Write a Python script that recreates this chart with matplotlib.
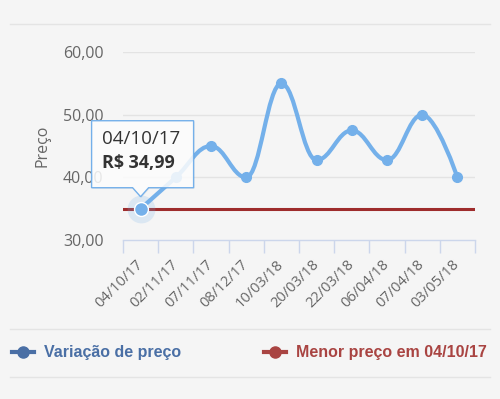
import matplotlib
matplotlib.use("Agg")
import matplotlib.pyplot as plt
from matplotlib.path import Path
from matplotlib.patches import PathPatch, Polygon
from matplotlib.lines import Line2D
from matplotlib.transforms import IdentityTransform, ScaledTranslation
import matplotlib.ticker as ticker

# ── data ──────────────────────────────────────────────────────────────
dates = ["04/10/17", "02/11/17", "07/11/17", "08/12/17", "10/03/18",
         "20/03/18", "22/03/18", "06/04/18", "07/04/18", "03/05/18"]
prices = [34.99, 39.99, 44.99, 39.99, 54.99, 42.75, 47.49, 42.75, 49.99, 39.99]
min_price = 34.99
min_date = "04/10/17"
y_ticks = [30, 40, 50, 60]

# ── styles ────────────────────────────────────────────────────────────
BG = "#f5f5f5"
LINE_BLUE = "#74b0ea"
MIN_RED = "#9e2c2c"
LEG_BLUE = "#4a6fa5"
LEG_RED = "#a94442"
TXT = "#666666"
FONT = "Open Sans"


def spline_path(xs, ys, smoothing=1.5):
    # highcharts-like spline control points
    n = len(xs)
    denom = smoothing + 1
    lc = list(zip(xs, ys))
    rc = list(zip(xs, ys))
    for i in range(1, n - 1):
        lx, ly = xs[i - 1], ys[i - 1]
        nx, ny = xs[i + 1], ys[i + 1]
        px, py = xs[i], ys[i]
        lcx = (smoothing * px + lx) / denom
        lcy = (smoothing * py + ly) / denom
        rcx = (smoothing * px + nx) / denom
        rcy = (smoothing * py + ny) / denom
        corr = ((rcy - lcy) * (rcx - px)) / (rcx - lcx) + py - rcy
        lcy += corr
        rcy += corr
        if lcy > ly and lcy > py:
            lcy = max(ly, py)
            rcy = 2 * py - lcy
        elif lcy < ly and lcy < py:
            lcy = min(ly, py)
            rcy = 2 * py - lcy
        if rcy > ny and rcy > py:
            rcy = max(ny, py)
            lcy = 2 * py - rcy
        elif rcy < ny and rcy < py:
            rcy = min(ny, py)
            lcy = 2 * py - rcy
        lc[i] = (lcx, lcy)
        rc[i] = (rcx, rcy)
    verts = [(xs[0], ys[0])]
    codes = [Path.MOVETO]
    for i in range(1, n):
        verts += [rc[i - 1], lc[i], (xs[i], ys[i])]
        codes += [Path.CURVE4] * 3
    return Path(verts, codes)


W, H = 500, 399
fig = plt.figure(figsize=(W / 100, H / 100), dpi=100, facecolor=BG)
ax = fig.add_axes([123 / W, 1 - 240 / H, 352 / W, 188 / H])
ax.set_facecolor(BG)

x = list(range(len(dates)))
ax.set_xlim(-0.5, len(dates) - 0.5)
ax.set_ylim(30, 60)

# grid
for yt in y_ticks[1:]:
    ax.axhline(yt, color="#e3e3e3", lw=1, zorder=0)

# minimum price line
ax.axhline(min_price, color=MIN_RED, lw=2.2, zorder=2)

# price spline
ax.add_patch(PathPatch(spline_path(x, prices), facecolor="none",
                       edgecolor=LINE_BLUE, lw=3, zorder=3,
                       capstyle="round", joinstyle="round"))
ax.plot(x, prices, "o", color=LINE_BLUE, ms=7, zorder=4)

# hovered point
ax.plot(x[0], prices[0], "o", color=LINE_BLUE, ms=20, alpha=0.2, mec="none", zorder=4)
ax.plot(x[0], prices[0], "o", color=LINE_BLUE, ms=10, mec="white", mew=1, zorder=5)

# axes
for s in ("top", "right", "left"):
    ax.spines[s].set_visible(False)
ax.spines["bottom"].set_color("#ccd6eb")
ax.spines["bottom"].set_linewidth(1)
ax.set_xticks(x)
ax.set_xticklabels(dates, rotation=45, ha="right", va="center", rotation_mode="anchor",
                   fontsize=10.5, color=TXT, family=FONT)
shift = ScaledTranslation(3 / 100, 0, fig.dpi_scale_trans)
for lab in ax.get_xticklabels():
    lab.set_transform(lab.get_transform() + shift)
ax.xaxis.set_minor_locator(ticker.FixedLocator([i - 0.5 for i in range(len(dates) + 1)]))
ax.tick_params(axis="x", which="major", length=0, pad=16)
ax.tick_params(axis="x", which="minor", length=9, color="#ccd6eb", width=1)
ax.set_yticks(y_ticks)
ax.yaxis.set_major_formatter(ticker.FuncFormatter(lambda v, p: f"{v:.2f}".replace(".", ",")))
ax.tick_params(axis="y", length=0, pad=14, labelsize=11.5, labelcolor=TXT)
for lab in ax.get_yticklabels():
    lab.set_family(FONT)
ax.set_ylabel("Preço", fontsize=11.5, color=TXT, family=FONT)
ax.yaxis.set_label_coords(-0.207, 0.5)

# separators
for yy in (24, 329, 377):
    fig.add_artist(Line2D([10 / W, 490 / W], [1 - yy / H] * 2,
                          color="#e4e4e4", lw=1, transform=fig.transFigure))

# tooltip
px, py = ax.transData.transform((x[0], prices[0]))
tip_y = py + 12
base_y = tip_y + 9
top_y = base_y + 67
l, r = px - 49, px + 53
pts = [(l, base_y), (px - 8, base_y), (px, tip_y), (px + 8, base_y),
       (r, base_y), (r, top_y), (l, top_y)]
shadow = Polygon([(a + 1, b - 1) for a, b in pts], closed=True, transform=IdentityTransform(),
                 facecolor="#000000", alpha=0.06, edgecolor="none", zorder=9)
fig.add_artist(shadow)
fig.add_artist(Polygon(pts, closed=True, transform=IdentityTransform(),
                       facecolor=(1, 1, 1, 0.85), edgecolor=LINE_BLUE, lw=1, zorder=10))
fig.text((l + 10) / W, (top_y - 18) / H, dates[0], fontsize=13.5, color="#333333",
         family=FONT, va="center", ha="left", zorder=11)
fig.text((l + 10) / W, (top_y - 42) / H, "R$ " + f"{prices[0]:.2f}".replace(".", ","),
         fontsize=13, color="#333333", family=FONT, weight="bold",
         va="center", ha="left", zorder=11)

# legend
handles = [Line2D([], [], color=LEG_BLUE, lw=3, marker="o", ms=8),
           Line2D([], [], color=LEG_RED, lw=3, marker="o", ms=8)]
leg = fig.legend(handles, ["Variação de preço", f"Menor preço em {min_date}"],
                 loc="center left", bbox_to_anchor=(12 / W, 1 - 353 / H), ncol=2,
                 frameon=False, borderpad=0, borderaxespad=0,
                 handlelength=1.4, handletextpad=0.6, columnspacing=5.2,
                 prop={"family": "Liberation Sans", "weight": "bold", "size": 11.5})
for t, c in zip(leg.get_texts(), (LEG_BLUE, LEG_RED)):
    t.set_color(c)

fig.savefig("out.png", dpi=100, facecolor=BG)
